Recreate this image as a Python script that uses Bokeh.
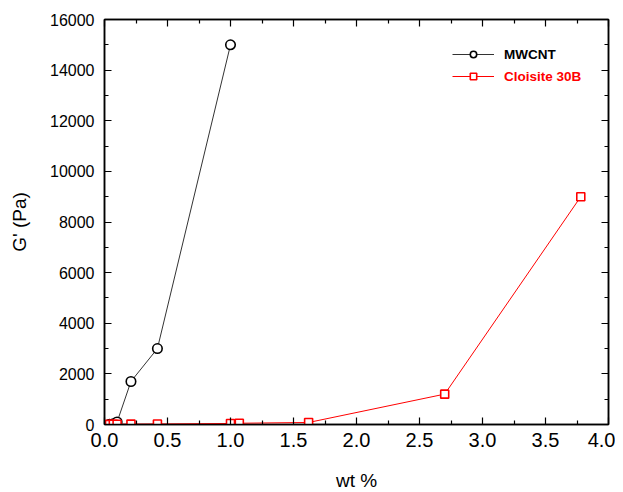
from bokeh.plotting import figure
from bokeh.models import (Range1d, LinearAxis, FixedTicker, PrintfTickFormatter,
                          Legend, LegendItem)
from bokeh.embed import file_html
from bokeh.resources import INLINE

# ---- data ----
mwcnt_x = [0.04, 0.07, 0.10, 0.21, 0.42, 1.00]
mwcnt_y = [10, 30, 100, 1700, 3000, 15000]

cloisite_x = [0.04, 0.07, 0.10, 0.21, 0.42, 1.00, 1.07, 1.62, 2.70, 3.78]
cloisite_y = [5, 8, 10, 15, 20, 40, 50, 80, 1200, 9000]

x_ticks = [0.0, 0.5, 1.0, 1.5, 2.0, 2.5, 3.0, 3.5, 4.0]
x_minor = [0.25, 0.75, 1.25, 1.75, 2.25, 2.75, 3.25, 3.75]
y_ticks = [0, 2000, 4000, 6000, 8000, 10000, 12000, 14000, 16000]
y_minor = [1000, 3000, 5000, 7000, 9000, 11000, 13000, 15000]

FONT = "Liberation Sans"

p = figure(frame_width=504, frame_height=405, output_backend="svg",
           toolbar_location=None, x_range=Range1d(0, 4), y_range=Range1d(0, 16000),
           min_border_left=104, min_border_right=7, min_border_top=19, min_border_bottom=64,
           background_fill_color="white", border_fill_color="white")
p.xgrid.visible = False
p.ygrid.visible = False
p.outline_line_color = "black"
p.outline_line_width = 1.5

def style_common(ax):
    ax.major_tick_out = 0
    ax.minor_tick_out = 0
    ax.axis_line_width = 1.5
    ax.major_tick_line_width = 1.2
    ax.minor_tick_line_width = 1.2
    ax.axis_line_color = "black"
    ax.major_tick_line_color = "black"
    ax.minor_tick_line_color = "black"

def style_axis(ax, ticks, minor, fmt, size):
    ax.ticker = FixedTicker(ticks=ticks, minor_ticks=minor)
    ax.formatter = PrintfTickFormatter(format=fmt)
    style_common(ax)
    ax.major_tick_in = 7
    ax.minor_tick_in = 4
    ax.major_label_text_font = FONT
    ax.major_label_text_color = "black"
    ax.major_label_text_font_size = size

style_axis(p.xaxis[0], x_ticks, x_minor, "%.1f", "20px")
style_axis(p.yaxis[0], y_ticks, y_minor, "%d", "16px")
p.xaxis[0].major_label_standoff = 8
p.yaxis[0].major_label_standoff = 10

p.xaxis[0].axis_label = "wt %"
p.yaxis[0].axis_label = "G' (Pa)"
for ax in (p.xaxis[0], p.yaxis[0]):
    ax.axis_label_text_font = FONT
    ax.axis_label_text_font_style = "normal"
    ax.axis_label_text_font_size = "19px"
    ax.axis_label_text_color = "black"
p.xaxis[0].axis_label_standoff = 20
p.yaxis[0].axis_label_standoff = 17

# mirrored tick marks (no labels): ticks given as minor ticks only
def mirror_axis(positions, length, draw_line):
    ax = LinearAxis(ticker=FixedTicker(ticks=[], minor_ticks=positions))
    style_common(ax)
    ax.minor_tick_in = length
    ax.major_tick_in = 0
    if not draw_line:
        ax.axis_line_color = None
    return ax

p.add_layout(mirror_axis(x_ticks, 7, True), "above")
p.add_layout(mirror_axis(x_minor, 4, False), "above")
p.add_layout(mirror_axis(y_ticks, 7, True), "right")
p.add_layout(mirror_axis(y_minor, 4, False), "right")

# ---- series ----
l1 = p.line(mwcnt_x, mwcnt_y, line_color="#333333", line_width=1)
s1 = p.scatter(mwcnt_x, mwcnt_y, marker="circle", size=9.5, line_color="black",
               line_width=1.6, fill_color="white")
l2 = p.line(cloisite_x, cloisite_y, line_color="#ff0000", line_width=1)
s2 = p.scatter(cloisite_x, cloisite_y, marker="square", size=8, line_color="#ff0000",
               line_width=1.6, fill_color="white")

def make_legend(label, renderers, color, loc):
    lg = Legend(items=[LegendItem(label=label, renderers=renderers)], location=loc,
                glyph_width=42, glyph_height=16, label_standoff=10, padding=0, margin=0,
                spacing=0, border_line_color=None, background_fill_alpha=0,
                label_text_font=FONT, label_text_font_style="bold",
                label_text_font_size="13.5px", label_text_color=color,
                label_height=16)
    return lg

p.add_layout(make_legend("MWCNT", [l1, s1], "black", (348, 362)), "center")
p.add_layout(make_legend("Cloisite 30B", [l2, s2], "#ff0000", (348, 340)), "center")

open("out.html", "w").write(file_html(p, INLINE))
